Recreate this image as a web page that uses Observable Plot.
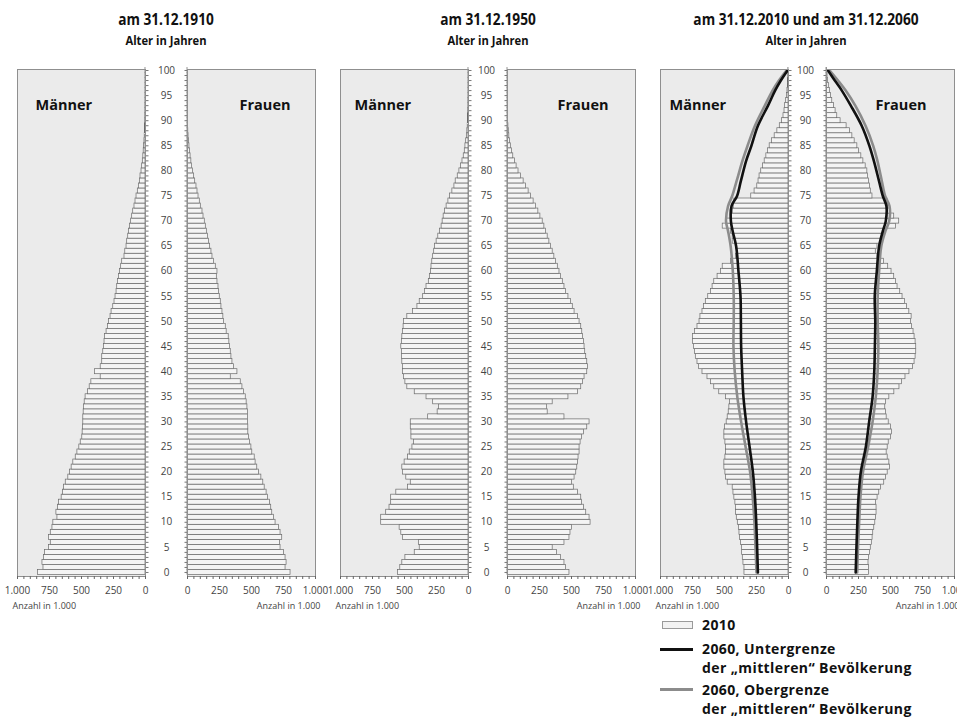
<!DOCTYPE html>
<html><head><meta charset="utf-8">
<script src="https://cdn.jsdelivr.net/npm/d3@7"></script>
<script src="https://cdn.jsdelivr.net/npm/@observablehq/plot@0.6"></script>
<style>
body{margin:0;background:#fff;}
#chart{position:relative;width:957px;height:720px;overflow:hidden;font-family:"Open Sans",sans-serif;}
#chart svg{position:absolute;overflow:visible;}
.title{position:absolute;text-align:center;font-family:"Open Sans",sans-serif;font-weight:bold;color:#111;white-space:nowrap;transform-origin:50% 50%;}
.t1{font-size:16.5px;line-height:19px;top:9px;transform:scaleX(0.83);}
.t2{font-size:13px;line-height:15px;top:33px;transform:scaleX(0.86);}
.leg{position:absolute;font-family:"Open Sans",sans-serif;font-weight:bold;font-size:14px;letter-spacing:0.4px;color:#111;white-space:nowrap;line-height:19px;}
.sw{position:absolute;}
</style></head><body><div id="chart"></div>
<script>
// ---- data (thousands), ages 0..100 ----
const ages = d3.range(0, 101);
const m1910 = [840,797,805,792,784,753,740,753,740,727,
720,688,696,683,675,655,644,636,623,603,
590,577,564,545,532,517,506,494,491,488,
486,486,483,480,475,468,449,436,423,350,
395,350,338,338,330,325,320,317,304,293,
286,273,265,252,242,234,226,221,216,208,
200,190,182,164,158,148,143,135,130,122,
112,104,96,86,78,70,60,52,44,39,
31,26,21,17,14,11,8,6,4,3,
2,1.5,1,1,0.5,0.5,0.3,0.2,0.1,0.1,0.1];
const f1910 = [805,766,774,766,753,727,722,740,727,714,
688,675,662,654,644,628,618,603,592,577,
558,545,532,525,506,499,488,481,475,475,
473,473,473,468,462,455,442,429,416,338,
390,364,351,343,338,332,327,322,306,299,
286,280,273,265,260,252,247,242,234,229,
234,221,208,195,187,177,169,161,151,143,
135,125,117,104,96,86,78,70,60,52,
44,36,30,24,19,15,11,8,6,4,
3,2,1.5,1,0.7,0.5,0.3,0.2,0.1,0.1,0.1];
const m1950 = [551,533,517,493,420,381,388,512,525,538,
682,682,643,617,604,604,564,472,451,486,
512,517,499,472,459,438,425,446,446,451,
451,315,241,231,276,328,420,478,493,504,
512,512,517,520,520,525,520,517,512,507,
504,478,433,399,381,354,341,328,310,302,
294,289,283,276,268,262,249,236,223,210,
202,194,184,171,157,144,126,110,100,84,
71,58,47,37,29,24,18,13,9,6,
4,3,2,1,1,0.5,0.3,0.2,0.1,0.1,0.1];
const f1950 = [484,458,445,419,387,353,445,484,492,503,
649,641,615,597,581,576,550,518,503,524,
537,545,550,555,563,563,571,581,597,623,
641,445,314,309,353,476,550,576,589,602,
623,628,623,615,607,602,597,589,584,576,
563,550,524,510,497,476,458,445,432,419,
406,393,380,366,353,340,327,314,301,288,
275,257,241,223,204,183,165,144,126,105,
86,71,58,45,34,26,20,14,10,7,
5,3,2,1.5,1,0.7,0.4,0.3,0.2,0.1,0.1];
const m2010 = [344,344,352,357,362,362,370,378,383,388,
396,404,409,409,415,423,430,436,475,488,
493,501,501,493,488,488,493,501,501,496,
483,475,467,462,457,488,541,580,606,633,
672,698,711,724,730,738,745,745,730,711,
695,688,672,659,646,627,606,593,580,554,
528,514,449,409,402,409,436,436,449,514,
488,449,436,428,423,291,265,244,234,226,
213,199,186,173,160,147,129,108,87,68,
50,39,31,26,18,12,8,5,3,2,1];
const f2010 = [333,333,328,333,339,346,354,360,365,373,
381,386,391,391,386,399,412,425,451,465,
478,496,491,478,470,478,486,504,512,504,
486,470,465,459,465,491,530,570,591,617,
648,675,688,696,701,701,696,688,680,669,
660,665,647,628,613,594,576,555,542,529,
508,482,450,398,385,398,424,437,450,542,
568,529,497,482,476,359,346,340,332,325,
319,306,288,272,254,241,220,202,183,157,
110,84,71,58,45,34,26,18,12,8,5];
// 2060 projections (thousands) at selected ages
const lineAges = [0,5,10,15,20,25,30,35,40,45,50,55,60,65,68,70,73,75,78,82,85,89,93,96,98,100];
const m2060low  = [239,245,252,262,278,304,331,352,362,370,372,375,391,409,436,450,445,402,372,331,290,239,160,105,60,8];
const m2060high = [250,258,266,280,300,335,370,400,420,430,428,428,435,452,472,488,472,440,405,360,320,262,185,125,75,16];
const f2060low  = [228,234,241,250,268,307,333,360,373,378,381,377,393,411,440,463,468,440,410,370,335,275,190,120,65,12];
const f2060high = [240,246,255,265,285,325,360,385,399,405,400,400,411,428,460,490,492,458,432,398,365,305,225,150,90,25];
const xTicks = [0,250,500,750,1000];
const yTicks = d3.range(0, 101, 5);
const titles = ["am 31.12.1910", "am 31.12.1950", "am 31.12.2010 und am 31.12.2060"];
const subtitle = "Alter in Jahren";
const axisLabel = "Anzahl in 1.000";
const legendItems = ["2010", "2060, Untergrenze", "der „mittleren“ Bevölkerung", "2060, Obergrenze", "der „mittleren“ Bevölkerung"];

const fmtDE = d3.formatLocale({decimal: ",", thousands: ".", grouping: [3], currency: ["", ""]}).format(",d");
const chart = document.getElementById("chart");

const PANEL_W = 128, TOP = 60, MT = 9, PH = 507, MB = 46;

function makePanel(values, side, name, nameDx, panelLeft, extra) {
  const L = side === "L";
  const data = ages.map((a, i) => ({age: a, value: values[i]}));
  const mL = L ? 18 : 42, mR = L ? 5 : 18;
  const marks = [
    Plot.frame({fill: "#ebebeb", stroke: null}),
    Plot.rectX(data, {x1: d => 0, x2: "value", y1: d => d.age - 0.5, y2: d => d.age + 0.5,
      fill: "#f4f4f4", stroke: "#6a6a6a", strokeWidth: 0.7}),
    ...(extra ? extra(L) : []),
    Plot.frame({stroke: "#8f8f8f", strokeWidth: 1}),
    Plot.axisX({ticks: d3.range(0, 1001, 50), tickSize: 3, tickFormat: () => "", stroke: "#666", label: null}),
    Plot.axisX({ticks: xTicks, tickSize: 0, tickPadding: 10, tickFormat: fmtDE, fontSize: 10, fill: "#444", label: null}),
    Plot.axisY({anchor: L ? "right" : "left", ticks: ages, tickSize: 2.5, tickFormat: () => "", stroke: "#777", label: null}),
    Plot.text([name], {frameAnchor: L ? "top-left" : "top-right", dx: L ? nameDx : -nameDx, dy: 30,
      fontWeight: "bold", fontSize: 14.5, fill: "#111", letterSpacing: 0.5}),
    Plot.text([axisLabel], {frameAnchor: L ? "bottom-left" : "bottom-right", dx: L ? -5 : 5, dy: 32,
      fontSize: 9, fill: "#444"})
  ];
  if (!L) {
    marks.push(Plot.text(yTicks, {y: d => d, frameAnchor: "left", dx: -21, textAnchor: "middle", fontSize: 10, fill: "#444"}));
  }
  const svg = Plot.plot({
    width: mL + PANEL_W + mR, height: MT + PH + MB,
    marginLeft: mL, marginRight: mR, marginTop: MT, marginBottom: MB,
    x: {domain: L ? [1000, 0] : [0, 1000], label: null},
    y: {domain: [-0.8, 100.2], label: null},
    style: {background: "transparent", fontFamily: "Open Sans, sans-serif", overflow: "visible"},
    marks
  });
  svg.style.left = (panelLeft - mL) + "px";
  svg.style.top = TOP + "px";
  chart.appendChild(svg);
}

function lines2060(L) {
  const low = (L ? m2060low : f2060low).map((v, i) => ({age: lineAges[i], value: v}));
  const high = (L ? m2060high : f2060high).map((v, i) => ({age: lineAges[i], value: v}));
  return [
    Plot.line(high, {x: "value", y: "age", stroke: "#8c8c8c", strokeWidth: 2.6, curve: "catmull-rom"}),
    Plot.line(low, {x: "value", y: "age", stroke: "#111", strokeWidth: 2.6, curve: "catmull-rom"})
  ];
}

makePanel(m1910, "L", "Männer", 18, 17);
makePanel(f1910, "R", "Frauen", 25, 187);
makePanel(m1950, "L", "Männer", 14, 340);
makePanel(f1950, "R", "Frauen", 27, 507);
makePanel(m2010, "L", "Männer", 9, 660, lines2060);
makePanel(f2010, "R", "Frauen", 28, 826, lines2060);

// titles
const centers = [166, 488, 806];
titles.forEach((t, i) => {
  const a = document.createElement("div");
  a.className = "title t1"; a.textContent = t;
  a.style.left = (centers[i] - 160) + "px"; a.style.width = "320px";
  chart.appendChild(a);
  const b = document.createElement("div");
  b.className = "title t2"; b.textContent = subtitle;
  b.style.left = (centers[i] - 160) + "px"; b.style.width = "320px";
  chart.appendChild(b);
});

// legend
function addDiv(cls, style, text) {
  const d = document.createElement("div");
  d.className = cls; Object.assign(d.style, style);
  if (text) d.textContent = text;
  chart.appendChild(d); return d;
}
addDiv("sw", {left: "662px", top: "621px", width: "29px", height: "6px", background: "#f2f2f2", border: "1px solid #9a9a9a"});
addDiv("sw", {left: "660px", top: "648px", width: "33px", height: "3px", background: "#111"});
addDiv("sw", {left: "660px", top: "688px", width: "33px", height: "3px", background: "#8c8c8c"});
addDiv("leg", {left: "702px", top: "615px"}, legendItems[0]);
addDiv("leg", {left: "702px", top: "639px"}, legendItems[1]);
addDiv("leg", {left: "702px", top: "658px"}, legendItems[2]);
addDiv("leg", {left: "702px", top: "680px"}, legendItems[3]);
addDiv("leg", {left: "702px", top: "699px"}, legendItems[4]);
</script>
</body></html>
